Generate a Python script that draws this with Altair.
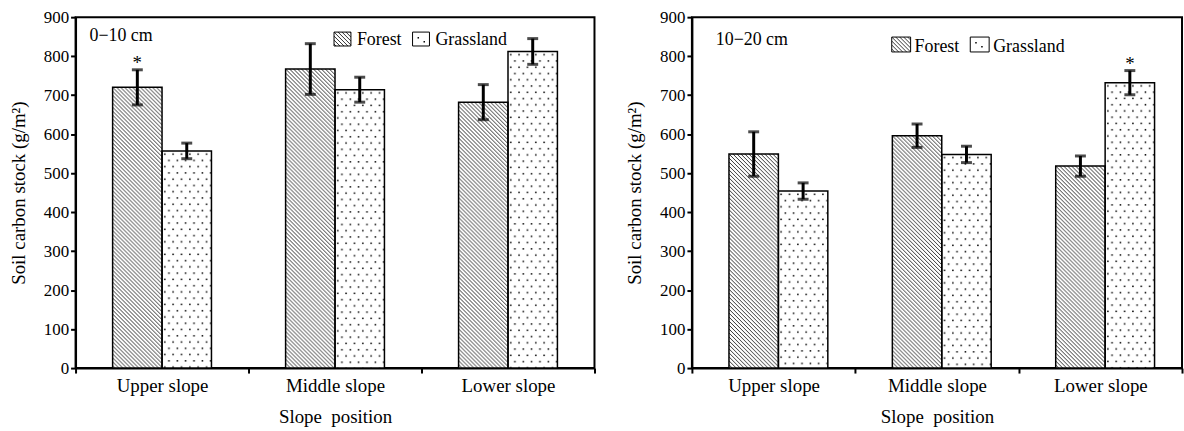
import altair as alt
import pandas as pd
from urllib.parse import quote

FONT = "Liberation Serif"

slopes = ["Upper slope", "Middle slope", "Lower slope"]
covers = ["Forest", "Grassland"]
y_ticks = [0, 100, 200, 300, 400, 500, 600, 700, 800, 900]

# 0-10 cm
forest_0_10 = [720, 767, 682]
forest_0_10_err = [45, 65, 45]
grass_0_10 = [557, 714, 812]
grass_0_10_err = [20, 32, 33]
forest_0_10_sig = ["*", "", ""]
grass_0_10_sig = ["", "", ""]

# 10-20 cm
forest_10_20 = [549, 596, 518]
forest_10_20_err = [57, 30, 26]
grass_10_20 = [454, 548, 732]
grass_10_20_err = [21, 21, 31]
forest_10_20_sig = ["", "", ""]
grass_10_20_sig = ["", "", "*"]


def make_df(forest, ferr, fsig, grass, gerr, gsig):
    rows = []
    for i, s in enumerate(slopes):
        rows.append(dict(slope=s, cover="Forest", mean=forest[i], zero=0,
                         lo=forest[i] - ferr[i], hi=forest[i] + ferr[i], sig=fsig[i]))
        rows.append(dict(slope=s, cover="Grassland", mean=grass[i], zero=0,
                         lo=grass[i] - gerr[i], hi=grass[i] + gerr[i], sig=gsig[i]))
    return pd.DataFrame(rows)


def svg_uri(svg):
    return "data:image/svg+xml;charset=utf-8," + quote(svg, safe="")


HATCH = svg_uri(
    '<svg xmlns="http://www.w3.org/2000/svg" width="100%" height="100%">'
    '<defs><pattern id="h" width="4" height="4" patternUnits="userSpaceOnUse">'
    '<path d="M-1,-1 L5,5 M-1,3 L1,5 M3,-1 L5,1" stroke="#000" stroke-width="0.8"/>'
    '</pattern></defs>'
    '<rect width="100%" height="100%" fill="#fff"/>'
    '<rect width="100%" height="100%" fill="url(#h)"/></svg>'
)
DOTS = svg_uri(
    '<svg xmlns="http://www.w3.org/2000/svg" width="100%" height="100%">'
    '<defs><pattern id="d" width="8.4" height="12.6" patternUnits="userSpaceOnUse">'
    '<rect x="2" y="2.5" width="1.5" height="1.5" fill="#000"/>'
    '<rect x="6.2" y="8.8" width="1.5" height="1.5" fill="#000"/>'
    '</pattern></defs>'
    '<rect width="100%" height="100%" fill="#fff"/>'
    '<rect width="100%" height="100%" fill="url(#d)"/></svg>'
)
LEG_DOTS = svg_uri(
    '<svg xmlns="http://www.w3.org/2000/svg" width="100%" height="100%">'
    '<rect width="100%" height="100%" fill="#fff"/>'
    '<rect x="5" y="5" width="1.5" height="1.5" fill="#000"/>'
    '<rect x="11" y="9" width="1.5" height="1.5" fill="#000"/></svg>'
)

AXIS_STYLE = dict(grid=False, labelFont=FONT, titleFont=FONT, titleFontWeight="normal",
                  labelColor="black", titleColor="black", domainColor="black",
                  domainWidth=2, tickColor="black", tickWidth=2, tickSize=5)


def panel(df, width, height, label, label_pos, legend):
    x = alt.X("slope:N", sort=slopes, scale=alt.Scale(paddingInner=0, paddingOuter=0),
              axis=alt.Axis(title="Slope \u00a0position", labelAngle=0, tickBand="extent",
                            labelPadding=4, labelFontSize=19, titleFontSize=19,
                            titlePadding=12, **AXIS_STYLE))
    xo = alt.XOffset("cover:N", sort=covers,
                     scale=alt.Scale(domain=covers, paddingInner=0, paddingOuter=0.75))
    yaxis = alt.Axis(values=y_ticks, title="Soil carbon stock (g/m\u00b2)",
                     labelPadding=2, labelFontSize=17, titleFontSize=19, titlePadding=15,
                     **AXIS_STYLE)
    yscale = alt.Scale(domain=[0, 900], nice=False, zero=True)

    def Y(field):
        return alt.Y(field, scale=yscale, axis=yaxis)

    base = alt.Chart(df)
    forest_img = base.transform_filter("datum.cover == 'Forest'").mark_image(
        aspect=False).encode(x=x, xOffset=xo, y=Y("mean:Q"), y2="zero:Q",
                             url=alt.value(HATCH))
    grass_img = base.transform_filter("datum.cover == 'Grassland'").mark_image(
        aspect=False).encode(x=x, xOffset=xo, y=Y("mean:Q"), y2="zero:Q",
                             url=alt.value(DOTS))
    outline = base.mark_bar(fill="transparent", stroke="black", strokeWidth=1.5).encode(
        x=x, xOffset=xo, y=Y("mean:Q"))
    err = base.mark_rule(strokeWidth=3, color="black").encode(
        x=x, xOffset=xo, y=Y("lo:Q"), y2="hi:Q")
    cap_hi = base.mark_tick(thickness=3, size=11, color="black").encode(
        x=x, xOffset=xo, y=Y("hi:Q"))
    cap_lo = base.mark_tick(thickness=3, size=11, color="black").encode(
        x=x, xOffset=xo, y=Y("lo:Q"))
    star = base.mark_text(font=FONT, fontSize=19, baseline="alphabetic", dy=-1,
                          color="black").encode(x=x, xOffset=xo, y=Y("hi:Q"), text="sig:N")

    one = pd.DataFrame({"k": [0]})
    lab = alt.Chart(one).mark_text(font=FONT, fontSize=18, align="left",
                                   baseline="alphabetic", color="black").encode(
        x=alt.value(label_pos[0]), y=alt.value(label_pos[1]), text=alt.value(label))

    fx, gx, sw, sy0, sy1, tdx, tby = legend
    sw_f = alt.Chart(one).mark_image(aspect=False).encode(
        x=alt.value(fx), x2=alt.value(fx + sw), y=alt.value(sy0), y2=alt.value(sy1),
        url=alt.value(HATCH))
    sw_g = alt.Chart(one).mark_image(aspect=False).encode(
        x=alt.value(gx), x2=alt.value(gx + sw), y=alt.value(sy0), y2=alt.value(sy1),
        url=alt.value(LEG_DOTS))
    sw_box = alt.Chart(pd.DataFrame({"x0": [fx, gx]})).mark_rect(
        fill="transparent", stroke="black", strokeWidth=1).encode(
        x=alt.X("x0:Q", scale=None), x2=alt.X2("x1:Q"), y=alt.value(sy0), y2=alt.value(sy1)
    ).transform_calculate(x1=f"datum.x0 + {sw}")
    t_f = alt.Chart(one).mark_text(font=FONT, fontSize=18, align="left",
                                   baseline="alphabetic", color="black").encode(
        x=alt.value(fx + sw + tdx), y=alt.value(tby), text=alt.value("Forest"))
    t_g = alt.Chart(one).mark_text(font=FONT, fontSize=18, align="left",
                                   baseline="alphabetic", color="black").encode(
        x=alt.value(gx + sw + tdx), y=alt.value(tby), text=alt.value("Grassland"))

    return alt.layer(forest_img, grass_img, outline, err, cap_hi, cap_lo, star,
                     lab, sw_f, sw_g, sw_box, t_f, t_g).properties(width=width, height=height)


df1 = make_df(forest_0_10, forest_0_10_err, forest_0_10_sig,
              grass_0_10, grass_0_10_err, grass_0_10_sig)
df2 = make_df(forest_10_20, forest_10_20_err, forest_10_20_sig,
              grass_10_20, grass_10_20_err, grass_10_20_sig)

left = panel(df1, 522, 353, "0\u221210 cm", (14, 24), (260, 339, 17, 15, 29, 6, 28))
right = panel(df2, 493, 353, "10\u221220 cm", (24, 28), (201, 280, 19, 20, 35, 4, 35))

chart = alt.hconcat(left, right, spacing=28).properties(
    padding={"left": 8, "top": 6, "right": 0, "bottom": 0}
).configure_view(
    stroke="black", strokeWidth=2
).configure_axis(
    grid=False, labelFont=FONT, titleFont=FONT, titleFontWeight="normal"
)

chart.save("out.html", embed_options={"renderer": "svg", "actions": False})
